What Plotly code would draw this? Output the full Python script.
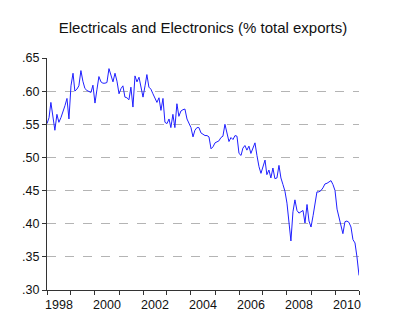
import pandas as pd
import plotly.graph_objects as go

# Monthly share of electricals & electronics in total exports, Jan 1998 - Jan 2011
values = [
    .551, .560, .583, .560, .541, .565, .553, .560, .568, .578,
    .589, .558, .608, .627, .600, .603, .608, .631, .615, .604,
    .601, .600, .598, .609, .582, .603, .622, .614, .612, .612,
    .613, .634, .623, .614, .627, .615, .596, .604, .608, .591,
    .590, .587, .606, .576, .623, .614, .621, .606, .591, .608,
    .625, .606, .603, .596, .590, .583, .590, .571, .589, .553,
    .551, .558, .545, .565, .545, .581, .562, .570, .572, .573,
    .558, .551, .545, .531, .541, .545, .545, .537, .535, .533,
    .533, .531, .513, .516, .522, .523, .525, .530, .532, .550,
    .538, .524, .530, .527, .533, .532, .506, .503, .514, .518,
    .511, .517, .506, .515, .522, .503, .486, .476, .488, .496,
    .474, .481, .469, .484, .468, .469, .488, .469, .459, .449,
    .431, .405, .374, .418, .436, .420, .416, .418, .420, .401,
    .429, .404, .395, .412, .429, .448, .448, .450, .454, .460,
    .461, .463, .465, .459, .450, .422, .411, .401, .385, .403,
    .404, .402, .395, .376, .371, .350, .322,
]
dates = pd.date_range("1998-01-01", periods=len(values), freq="MS")

y_ticks = [0.30, 0.35, 0.40, 0.45, 0.50, 0.55, 0.60, 0.65]
y_labels = [".30", ".35", ".40", ".45", ".50", ".55", ".60", ".65"]
y_grid = [0.35, 0.40, 0.45, 0.50, 0.55, 0.60]
year_ticks = [f"{y}-01-01" for y in range(1998, 2012)]
year_label_pos = [f"{y}-07-02" for y in range(1998, 2011, 2)]
year_labels = [str(y) for y in range(1998, 2011, 2)]

FONT = "Arial, Liberation Sans, sans-serif"
AX = "#333333"

fig = go.Figure()
fig.add_trace(go.Scatter(x=dates, y=values, mode="lines",
                         line=dict(color="#2020ff", width=1),
                         showlegend=False, hoverinfo="skip"))
# invisible helper trace so overlay axes (labels / grid) are drawn
fig.add_trace(go.Scatter(x=dates[:1], y=values[:1], mode="lines", xaxis="x2", yaxis="y2",
                         line=dict(color="rgba(0,0,0,0)"), showlegend=False, hoverinfo="skip"))

rng_x = ["1998-01-01", "2011-01-01"]
rng_y = [0.30, 0.65]

fig.update_layout(
    width=395, height=330,
    margin=dict(l=47, r=36, t=58, b=40),
    paper_bgcolor="white", plot_bgcolor="white",
    font=dict(family=FONT, size=12.5, color="#111"),
    title=dict(text="Electricals and Electronics (% total exports)",
               font=dict(family=FONT, size=15, color="#111"),
               x=0.5, xref="paper", xanchor="center",
               y=1 - 28 / 330, yref="container", yanchor="middle"),
    xaxis=dict(type="date", range=rng_x, tickmode="array", tickvals=year_ticks,
               ticktext=[""] * len(year_ticks), ticks="outside", ticklen=4,
               tickcolor=AX, showline=True, linecolor=AX, linewidth=1,
               showgrid=False, zeroline=False),
    xaxis2=dict(type="date", range=rng_x, overlaying="x", anchor="y", side="bottom",
                tickmode="array", tickvals=year_label_pos, ticktext=year_labels,
                ticks="outside", ticklen=3, tickcolor="rgba(0,0,0,0)",
                showline=True, linecolor=AX, linewidth=1,
                showgrid=False, zeroline=False,
                tickfont=dict(family=FONT, size=12.5, color="#111")),
    yaxis=dict(range=rng_y, tickmode="array", tickvals=y_ticks, ticktext=y_labels,
               ticks="outside", ticklen=4, tickcolor=AX, showline=True,
               linecolor=AX, linewidth=1, showgrid=False, zeroline=False,
               tickfont=dict(family=FONT, size=12.5, color="#111")),
    yaxis2=dict(range=rng_y, overlaying="y", anchor="x", side="left",
                tickmode="array", tickvals=y_grid, showticklabels=False, ticks="",
                showgrid=True, gridcolor="#b4b4b4", griddash="dash", gridwidth=1,
                showline=True, linecolor=AX, linewidth=1, zeroline=False),
)

fig.write_html("out.html")
